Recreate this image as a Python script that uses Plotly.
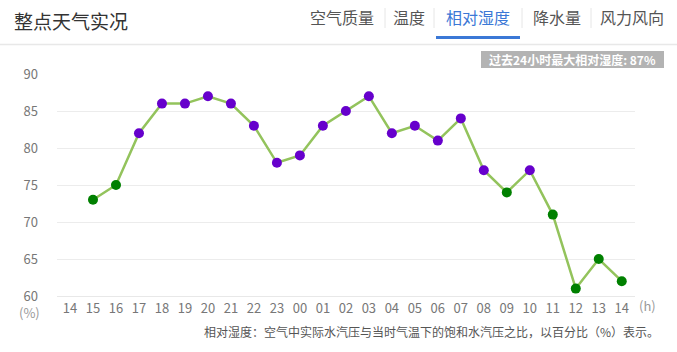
import plotly.graph_objects as go

# ---- data ----
hour_labels = ["14", "15", "16", "17", "18", "19", "20", "21", "22", "23", "00", "01", "02",
               "03", "04", "05", "06", "07", "08", "09", "10", "11", "12", "13", "14"]
humidity = [73, 75, 82, 86, 86, 87, 86, 83, 78, 79, 83, 85, 87, 82, 83, 81, 84,
            77, 74, 77, 71, 61, 65, 62]
point_colors = ["g", "g", "p", "p", "p", "p", "p", "p", "p", "p", "p", "p", "p", "p", "p",
                "p", "p", "p", "g", "p", "g", "g", "g", "g"]
y_ticks = [60, 65, 70, 75, 80, 85, 90]
tabs = ["空气质量", "温度", "相对湿度", "降水量", "风力风向"]
active_tab = "相对湿度"
title_text = "整点天气实况"
badge_text = "过去24小时最大相对湿度: 87%"
note_text = "相对湿度：空气中实际水汽压与当时气温下的饱和水汽压之比，以百分比（%）表示。"

# ---- layout geometry (pixels) ----
W, H = 677, 352
L, R, T, B = 57, 635, 74, 296
FONT = "Noto Sans CJK SC, Microsoft YaHei, sans-serif"
color_map = {"g": "#008000", "p": "#6600cc"}


def px(x):
    return (x - L) / (R - L)


def py(y):
    return (B - y) / (B - T)


# data starts at the second hour label (index 1)
x_idx = list(range(1, len(hour_labels)))

fig = go.Figure()
fig.add_trace(go.Scatter(
    x=x_idx, y=humidity, mode="lines+markers",
    line=dict(color="#93c35c", width=2.5),
    marker=dict(size=10, color=[color_map[c] for c in point_colors]),
    cliponaxis=False, showlegend=False, hoverinfo="skip",
))

spacing = 22.99
first_x = 70
x_lo = (L - first_x) / spacing
x_hi = (R - first_x) / spacing

fig.update_xaxes(
    range=[x_lo, x_hi], tickmode="array", tickvals=list(range(len(hour_labels))),
    ticktext=hour_labels, showgrid=False, zeroline=False, showline=True,
    linecolor="#e8e8e8", linewidth=1,
    tickfont=dict(family=FONT, size=13, color="#777"),
    ticks="", fixedrange=True,
)
fig.update_yaxes(
    range=[60, 90], tickmode="array", tickvals=y_ticks,
    showgrid=True, gridcolor="#ececec", gridwidth=1, zeroline=False,
    tickfont=dict(family=FONT, size=13, color="#777"), ticks="",
    ticklabelstandoff=18, fixedrange=True,
)

shapes = []
annotations = []

# title
annotations.append(dict(text=title_text, x=px(12), y=py(20), xref="paper", yref="paper",
                        xanchor="left", yanchor="middle", showarrow=False,
                        font=dict(family=FONT, size=19, color="#333")))

# tabs
tab_centers = [342, 409, 478, 557, 632]
separators = [385, 434, 522, 591]
for t, cx in zip(tabs, tab_centers):
    annotations.append(dict(text=t, x=px(cx), y=py(17), xref="paper", yref="paper",
                            xanchor="center", yanchor="middle", showarrow=False,
                            font=dict(family=FONT, size=16,
                                      color="#3b78d6" if t == active_tab else "#555")))
for sx in separators:
    shapes.append(dict(type="line", xref="paper", yref="paper",
                       x0=px(sx), x1=px(sx), y0=py(8), y1=py(28),
                       line=dict(color="#e6e6e6", width=1)))
# underline
shapes.append(dict(type="rect", xref="paper", yref="paper",
                   x0=px(436), x1=px(520), y0=py(39), y1=py(36),
                   fillcolor="#3b78d6", line=dict(width=0)))
# header divider
shapes.append(dict(type="line", xref="paper", yref="paper",
                   x0=px(0), x1=px(W), y0=py(44.5), y1=py(44.5),
                   line=dict(color="#e8e8e8", width=1.5)))
# badge
shapes.append(dict(type="rect", xref="paper", yref="paper",
                   x0=px(481), x1=px(664), y0=py(68), y1=py(51),
                   fillcolor="#b3b3b3", line=dict(width=0)))
annotations.append(dict(text="<b>" + badge_text + "</b>", x=px(572.5), y=py(59.5),
                        xref="paper", yref="paper", xanchor="center", yanchor="middle",
                        showarrow=False, font=dict(family=FONT, size=12, color="#fff")))
# units
annotations.append(dict(text="(%)", x=px(29), y=py(312), xref="paper", yref="paper",
                        xanchor="center", yanchor="middle", showarrow=False,
                        font=dict(family=FONT, size=13, color="#999")))
annotations.append(dict(text="(h)", x=px(647), y=py(305.5), xref="paper", yref="paper",
                        xanchor="center", yanchor="middle", showarrow=False,
                        font=dict(family=FONT, size=13, color="#999")))
# note
annotations.append(dict(text=note_text, x=px(661), y=py(331), xref="paper", yref="paper",
                        xanchor="right", yanchor="middle", showarrow=False,
                        font=dict(family=FONT, size=12, color="#555")))

fig.update_layout(
    width=W, height=H,
    margin=dict(l=L, r=W - R, t=T, b=H - B, pad=0),
    paper_bgcolor="#fff", plot_bgcolor="#fff",
    shapes=shapes, annotations=annotations,
    font=dict(family=FONT),
)

fig.write_html("out.html", config={"displayModeBar": False})
